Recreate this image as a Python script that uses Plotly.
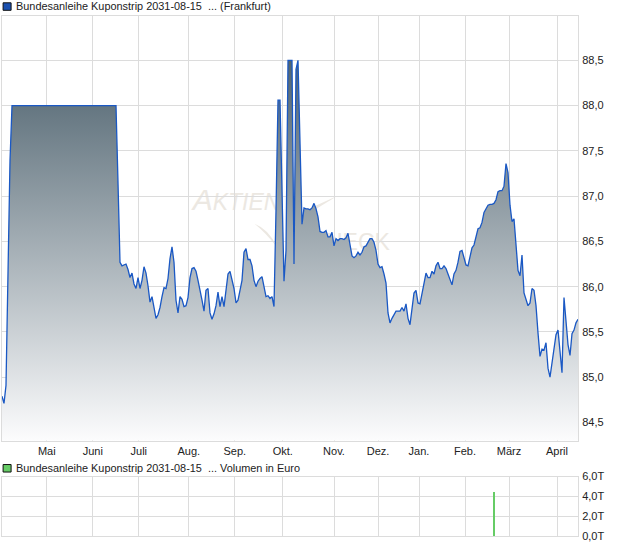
import plotly.graph_objects as go

prices = [
 84.79,84.71,84.91,85.98,87.39,
 88.0,88.0,88.0,88.0,88.0,88.0,88.0,88.0,88.0,88.0,88.0,88.0,88.0,88.0,88.0,88.0,88.0,88.0,88.0,88.0,88.0,88.0,
 88.0,88.0,88.0,88.0,88.0,88.0,88.0,88.0,88.0,88.0,88.0,88.0,88.0,88.0,88.0,88.0,88.0,88.0,88.0,88.0,88.0,88.0,88.0,88.0,88.0,88.0,
 88.0,88.0,88.0,88.0,88.0,
 87.15,86.27,
 86.23,86.24,86.25,86.19,86.10,86.15,86.03,85.98,86.10,85.98,86.07,86.22,86.15,86.01,85.83,85.89,85.76,85.65,85.69,85.77,
 85.89,85.99,85.98,86.09,86.31,86.44,86.27,85.85,85.71,85.89,85.86,85.78,85.79,85.88,86.10,86.20,86.21,86.17,86.07,85.94,
 85.85,85.73,85.96,85.98,85.71,85.64,85.70,85.79,85.94,85.78,85.89,85.78,85.98,86.14,86.17,86.09,85.98,85.82,85.85,85.96,
 86.07,86.38,86.42,86.30,86.30,86.23,86.07,86.00,86.06,86.09,86.11,86.00,85.89,85.90,85.87,85.89,85.78,86.84,88.06,88.06,
 86.84,86.06,86.40,88.5,88.5,88.5,86.25,88.4,88.5,87.6,86.69,86.87,86.86,86.86,86.85,86.87,86.92,86.86,86.77,86.61,
 86.60,86.60,86.62,86.55,86.55,86.60,86.45,86.53,86.51,86.53,86.53,86.52,86.54,86.59,86.44,86.34,86.32,86.34,86.38,86.35,
 86.38,86.44,86.45,86.50,86.53,86.53,86.49,86.40,86.25,86.21,86.22,86.14,86.04,85.71,85.60,85.65,85.70,85.73,85.73,85.73,
 85.77,85.73,85.81,85.65,85.58,85.75,85.93,85.96,85.82,85.81,85.92,86.02,86.15,86.10,86.10,86.17,86.14,86.23,86.27,86.20,
 86.20,86.23,86.20,86.14,86.08,86.02,86.14,86.18,86.27,86.39,86.40,86.31,86.24,86.23,86.34,86.43,86.46,86.54,86.64,86.65,
 86.71,86.82,86.87,86.90,86.91,86.91,86.92,86.96,87.05,87.06,87.06,87.11,87.36,87.26,86.90,86.72,86.75,86.40,86.18,86.12,
 86.35,85.93,85.87,85.79,85.82,85.98,85.96,85.79,85.49,85.23,85.31,85.30,85.38,85.10,85.00,85.17,85.33,85.47,85.52,85.25,
 85.05,85.88,85.62,85.36,85.24,85.48,85.52,85.60,85.64,
]
sessions = list(range(len(prices)))
month_positions = [22.4, 45.4, 68.4, 93.4, 116.4, 140.4, 166, 188, 208.5, 231.5, 253.5, 277.5]
month_labels = ["Mai", "Juni", "Juli", "Aug.", "Sep.", "Okt.", "Nov.", "Dez.", "Jan.", "Feb.", "März", "April"]
price_ticks = [84.5, 85.0, 85.5, 86.0, 86.5, 87.0, 87.5, 88.0, 88.5]
volume_sessions = [246]
volume_values = [4500]
volume_ticks = [0, 2000, 4000, 6000]
volume_tick_labels = ["0,0T", "2,0T", "4,0T", "6,0T"]

W, H = 620, 546
L, R, T, B = 2.4, 578.4, 16.2, 536.5
MAIN_BOTTOM, VOL_TOP = 441.0, 477.0
GRID = "#dcdcdc"
TEXT = "#222222"
FONT = "Liberation Sans"
WM = "#ece8e2"

def px(x):
    return (x - L) / (R - L)

def py(y):
    return (B - y) / (B - T)

fig = go.Figure()
fig.add_trace(go.Scatter(
    x=sessions, y=prices, mode="lines",
    line=dict(color="#1a58c4", width=1.3),
    fill="tozeroy",
    fillgradient=dict(type="vertical", start=88.5, stop=84.3,
                      colorscale=[[0, "#506470"], [1, "#fcfcfd"]]),
    hoverinfo="skip", xaxis="x", yaxis="y"))
fig.add_trace(go.Bar(
    x=volume_sessions, y=volume_values, width=0.55,
    marker=dict(color="#66cc66", line=dict(width=0)),
    hoverinfo="skip", xaxis="x2", yaxis="y2"))

x_common = dict(range=[0, 288], tickmode="array", tickvals=month_positions,
                showgrid=True, gridcolor=GRID, gridwidth=1, zeroline=False,
                showline=True, linecolor=GRID, linewidth=1, mirror=True, ticks="")
y_common = dict(side="right", showgrid=True, gridcolor=GRID, gridwidth=1, zeroline=False,
                showline=True, linecolor=GRID, linewidth=1, mirror=True, ticks="",
                ticklabelstandoff=1,
                tickfont=dict(family=FONT, size=11, color=TEXT))

shapes = [
    dict(type="rect", xref="paper", yref="paper", x0=px(192), x1=px(282), y0=py(218), y1=py(190),
         layer="below", line=dict(width=0), fillcolor="rgba(0,0,0,0)",
         label=dict(text="<i><span style='font-size:30px'>A</span>KTIEN</i>",
                    font=dict(family=FONT, size=23, color=WM), textposition="middle center")),
    dict(type="rect", xref="paper", yref="paper", x0=px(310), x1=px(390), y0=py(253), y1=py(227),
         layer="below", line=dict(width=0), fillcolor="rgba(0,0,0,0)",
         label=dict(text="CHECK", font=dict(family=FONT, size=23, color=WM),
                    textposition="middle center")),
    dict(type="path", xref="paper", yref="paper", layer="below", line=dict(width=0), fillcolor=WM,
         path=f"M {px(255)} {py(224)} Q {px(270)} {py(230)} {px(277)} {py(247)} "
              f"Q {px(267)} {py(234)} {px(255)} {py(224)} Z"),
    dict(type="path", xref="paper", yref="paper", layer="below", line=dict(width=0), fillcolor=WM,
         path=f"M {px(338)} {py(196)} L {px(305)} {py(211)} L {px(307)} {py(215)} Z"),
    dict(type="rect", xref="paper", yref="paper", x0=px(3.5), x1=px(11.5),
         y0=py(10.5), y1=py(3), line=dict(color="#111111", width=1), fillcolor="#1a50b0"),
    dict(type="rect", xref="paper", yref="paper", x0=px(3.5), x1=px(11.5),
         y0=py(472.5), y1=py(465), line=dict(color="#111111", width=1), fillcolor="#66cc66"),
]
annotations = [
    dict(text="Bundesanleihe Kuponstrip 2031-08-15  ... (Frankfurt)", xref="paper", yref="paper",
         x=px(14), y=py(6), xanchor="left", yanchor="middle", showarrow=False,
         font=dict(family=FONT, size=10.9, color=TEXT)),
    dict(text="Bundesanleihe Kuponstrip 2031-08-15  ... Volumen in Euro", xref="paper", yref="paper",
         x=px(14), y=py(468.5), xanchor="left", yanchor="middle", showarrow=False,
         font=dict(family=FONT, size=10.9, color=TEXT)),
]

fig.update_layout(
    width=W, height=H, autosize=False, showlegend=False, separators=",.",
    margin=dict(l=L, r=W - R, t=T, b=H - B, pad=0),
    paper_bgcolor="white", plot_bgcolor="white", bargap=0,
    font=dict(family=FONT, size=11, color=TEXT),
    xaxis=dict(x_common, domain=[0, 1], anchor="y", ticktext=month_labels,
               tickfont=dict(family=FONT, size=11, color=TEXT)),
    yaxis=dict(y_common, domain=[py(MAIN_BOTTOM), 1], anchor="x", range=[84.3, 88.99],
               tickmode="array", tickvals=price_ticks, tickformat=".1f"),
    xaxis2=dict(x_common, domain=[0, 1], anchor="y2", showticklabels=False),
    yaxis2=dict(y_common, domain=[0, py(VOL_TOP)], anchor="x2", range=[0, 6000],
                tickmode="array", tickvals=volume_ticks, ticktext=volume_tick_labels),
    shapes=shapes, annotations=annotations,
)
fig.write_html("out.html", config={"displayModeBar": False},
               post_script="document.body.style.margin='0';")
